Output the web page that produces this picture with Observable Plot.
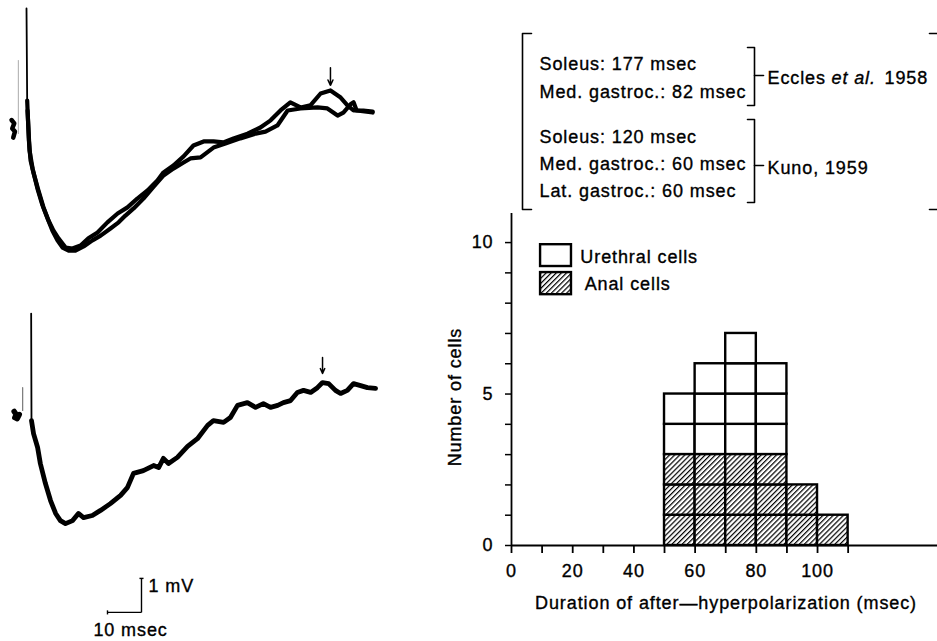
<!DOCTYPE html>
<html><head><meta charset="utf-8">
<script src="https://cdn.jsdelivr.net/npm/d3@7"></script>
<script src="https://cdn.jsdelivr.net/npm/@observablehq/plot@0.6"></script>
<style>
html,body{margin:0;padding:0;background:#fff;}
#fig{position:relative;width:937px;height:641px;overflow:hidden;background:#fff;}
#fig svg{position:absolute;}
#fig svg text{stroke:#000;stroke-width:0.35px;}
</style></head><body>
<svg width="0" height="0" style="position:absolute">
  <defs>
    <pattern id="hatch" patternUnits="userSpaceOnUse" width="3.6" height="3.6" patternTransform="rotate(45)">
      <rect width="3.6" height="3.6" fill="#fff"/>
      <line x1="0.6" y1="0" x2="0.6" y2="3.6" stroke="#000" stroke-width="1.25"/>
    </pattern>
  </defs>
</svg>
<div id="fig"></div>
<script>
// ---------------- DATA ----------------
// Histogram: duration of after-hyperpolarization (msec), counts per 10-msec bin
const binStarts = [50, 60, 70, 80, 90, 100];
const binWidth = 10;
const analCells = [3, 3, 3, 3, 2, 1];
const urethralCells = [2, 3, 4, 3, 0, 0];
const xTickValues = [0, 10, 20, 30, 40, 50, 60, 70, 80, 90, 100, 110];
const xTickLabels = [0, 20, 40, 60, 80, 100];
const yTickValues = [0, 1, 2, 3, 4, 5, 6, 7, 8, 9, 10];
const yTickLabels = [0, 5, 10];
const legendLabels = ["Urethral cells", "Anal cells"];
const xTitle = "Duration of after\u2014hyperpolarization (msec)";
const yTitle = "Number of cells";

// Literature values
const ecclesLines = ["Soleus: 177 msec", "Med. gastroc.: 82 msec"];
const kunoLines = ["Soleus: 120 msec", "Med. gastroc.: 60 msec", "Lat. gastroc.: 60 msec"];
const ecclesCite = ["Eccles", "et al.", "1958"];
const kunoCite = ["Kuno, 1959"];

// Intracellular traces: time (msec from spike) and potential (mV from rest)
const topSpikeT = [0, 0.2];
const topSpikeV = [3.50, 0.79];
const topTraceAT = [0.2, 0.7, 1.2, 2.1, 3.5, 5.0, 6.5, 7.9, 9.4, 11.5, 13.5, 15.9, 18.2, 20.9, 23.8, 26.8, 29.7, 32.6, 35.6, 38.5, 40.3, 43.2, 46.2, 49.1, 52.1, 55.0, 57.9, 60.9, 65.0, 68.8, 71.8, 74.7, 77.6, 80.6, 83.5, 86.5, 89.4, 92.4, 94.4, 96.2, 99.1, 101.8];
const topTraceAV = [0.79, -0.38, -0.97, -1.35, -1.85, -2.35, -2.74, -3.03, -3.26, -3.53, -3.56, -3.47, -3.26, -3.09, -2.79, -2.53, -2.35, -2.09, -1.85, -1.56, -1.32, -1.12, -0.85, -0.53, -0.41, -0.41, -0.44, -0.32, -0.18, 0.00, 0.21, 0.50, 0.74, 0.59, 0.65, 1.00, 1.09, 0.88, 0.65, 0.50, 0.50, 0.47];
const topTraceBT = [0.3, 0.9, 1.8, 3.2, 4.7, 6.2, 7.6, 9.1, 10.6, 12.4, 14.4, 16.8, 19.4, 21.8, 24.7, 27.1, 29.1, 31.5, 34.4, 37.4, 40.3, 43.2, 46.2, 48.2, 51.2, 55.0, 58.5, 62.9, 67.4, 70.3, 73.8, 76.8, 80.6, 85.6, 88.5, 91.5, 93.2, 95.3, 96.2, 97.1, 101.8];
const topTraceBV = [0.50, -0.68, -1.21, -1.79, -2.29, -2.68, -3.03, -3.32, -3.53, -3.62, -3.62, -3.50, -3.32, -3.18, -2.97, -2.79, -2.59, -2.38, -2.09, -1.74, -1.41, -1.21, -1.03, -0.91, -0.88, -0.59, -0.47, -0.32, -0.18, -0.12, 0.06, 0.50, 0.56, 0.59, 0.56, 0.35, 0.44, 0.68, 0.74, 0.50, 0.44];
const topPreT = [-4.4, -3.6, -4.2, -3.4, -3.9];
const topPreV = [0.22, 0.12, -0.03, -0.12, -0.30];
const topArtifactT = [-2.4, -2.4];
const topArtifactV = [1.97, -0.18];
const topArrowT = [89.4];

const botSpikeT = [-0.1, 0];
const botSpikeV = [2.94, -0.21];
const botTraceT = [0, 0.6, 1.8, 2.6, 4.1, 5.6, 7.1, 8.5, 10.0, 12.1, 13.8, 15.3, 17.9, 20.3, 23.2, 26.2, 28.2, 30.0, 32.9, 35.9, 37.4, 38.8, 40.3, 42.9, 45.9, 48.8, 51.8, 53.5, 56.5, 58.5, 60.6, 63.5, 65.9, 68.2, 70.3, 72.4, 74.1, 76.2, 78.2, 80.0, 82.1, 84.1, 85.6, 87.4, 89.4, 90.9, 92.9, 94.7, 96.8, 98.8, 101.2];
const botTraceV = [-0.21, -0.59, -1.00, -1.47, -2.06, -2.56, -2.94, -3.15, -3.24, -3.15, -2.94, -3.06, -3.00, -2.85, -2.65, -2.41, -2.18, -1.76, -1.68, -1.53, -1.59, -1.32, -1.47, -1.29, -0.97, -0.74, -0.35, -0.21, -0.26, -0.12, 0.24, 0.32, 0.18, 0.29, 0.18, 0.24, 0.32, 0.38, 0.62, 0.68, 0.62, 0.76, 0.91, 0.88, 0.68, 0.59, 0.68, 0.88, 0.82, 0.76, 0.74];
const botPreT = [-5.1, -4.5, -4.9, -4.2, -3.6];
const botPreV = [0.06, -0.03, -0.12, -0.15, -0.03];
const botArtifactT = [-2.6, -2.6];
const botArtifactV = [0.76, 0.09];
const botArrowT = [85.6];

const scaleBarMsec = 10;
const scaleBarMV = 1;
const scaleBarLabels = ["1 mV", "10 msec"];

// ---------------- LAYOUT / STYLE ----------------
const FONT = "'Liberation Sans', Arial, Helvetica, sans-serif";
const baseStyle = {background: "transparent", overflow: "visible", fontFamily: FONT, letterSpacing: "0.9px", color: "#000"};
const fig = document.getElementById("fig");
function place(svg, left, top) { svg.style.left = left + "px"; svg.style.top = top + "px"; fig.appendChild(svg); }
const traceStroke = {stroke: "#000", strokeLinejoin: "round", strokeLinecap: "round"};

// ---------------- TOP TRACES ----------------
const topPlot = Plot.plot({
  width: 390, height: 270, margin: 0,
  x: {domain: [-7.647, 107.06], axis: null},
  y: {domain: [-4.206, 3.735], axis: null},
  style: baseStyle,
  marks: [
    Plot.line(topArtifactT, {x: topArtifactT, y: topArtifactV, stroke: "#aaa", strokeWidth: 1}),
    Plot.line(topPreT, {x: topPreT, y: topPreV, ...traceStroke, strokeWidth: 4.5}),
    Plot.line(topSpikeT, {x: topSpikeT, y: topSpikeV, ...traceStroke, strokeWidth: 1.8}),
    Plot.line(topTraceAT, {x: topTraceAT, y: topTraceAV, ...traceStroke, strokeWidth: 4.2}),
    Plot.line(topTraceBT, {x: topTraceBT, y: topTraceBV, ...traceStroke, strokeWidth: 4.2}),
    Plot.arrow(topArrowT, {x1: d => d, x2: d => d, y1: 1.76, y2: 1.24, stroke: "#000", strokeWidth: 1.5, headLength: 6, headAngle: 50})
  ]
});
place(topPlot, 0, 0);

// ---------------- BOTTOM TRACE + SCALE BAR ----------------
const sbT0 = 22.35, sbV0 = -5.85;
const botPlot = Plot.plot({
  width: 390, height: 361, margin: 0,
  x: {domain: [-9.118, 105.59], axis: null},
  y: {domain: [-6.706, 3.912], axis: null},
  style: baseStyle,
  marks: [
    Plot.line(botArtifactT, {x: botArtifactT, y: botArtifactV, stroke: "#777", strokeWidth: 1.2}),
    Plot.line(botPreT, {x: botPreT, y: botPreV, ...traceStroke, strokeWidth: 5.5}),
    Plot.line(botSpikeT, {x: botSpikeT, y: botSpikeV, ...traceStroke, strokeWidth: 1.8}),
    Plot.line(botTraceT, {x: botTraceT, y: botTraceV, ...traceStroke, strokeWidth: 4.8}),
    Plot.arrow(botArrowT, {x1: d => d, x2: d => d, y1: 1.65, y2: 1.18, stroke: "#000", strokeWidth: 1.5, headLength: 6, headAngle: 50}),
    // scale bar
    Plot.link([0], {x1: sbT0, x2: sbT0 + scaleBarMsec, y1: sbV0, y2: sbV0, stroke: "#000", strokeWidth: 1.4}),
    Plot.link([0], {x1: sbT0 + scaleBarMsec, x2: sbT0 + scaleBarMsec, y1: sbV0, y2: sbV0 + scaleBarMV, stroke: "#000", strokeWidth: 1.4}),
    Plot.link([0], {x1: sbT0, x2: sbT0, y1: sbV0 - 0.06, y2: sbV0 + 0.06, stroke: "#000", strokeWidth: 1.4}),
    Plot.link([0], {x1: sbT0 + scaleBarMsec - 0.6, x2: sbT0 + scaleBarMsec + 0.6, y1: sbV0 + scaleBarMV, y2: sbV0 + scaleBarMV, stroke: "#000", strokeWidth: 1.4}),
    Plot.text([scaleBarLabels[0]], {x: sbT0 + scaleBarMsec + 2.05, y: sbV0 + 0.59, textAnchor: "start", lineAnchor: "bottom", fontSize: 18}),
    Plot.text([scaleBarLabels[1]], {x: sbT0 - 4.15, y: sbV0 - 0.68, textAnchor: "start", lineAnchor: "bottom", fontSize: 18})
  ]
});
place(botPlot, 0, 280);

// ---------------- HISTOGRAM ----------------
const cells = [];
binStarts.forEach((b, i) => {
  for (let k = 0; k < analCells[i]; k++) cells.push({x1: b, x2: b + binWidth, y1: k, y2: k + 1, kind: legendLabels[1]});
  for (let k = 0; k < urethralCells[i]; k++) cells.push({x1: b, x2: b + binWidth, y1: analCells[i] + k, y2: analCells[i] + k + 1, kind: legendLabels[0]});
});
const legendBoxes = [
  {x1: 9.5, x2: 19.6, y1: 9.21, y2: 9.93, label: legendLabels[0], tx: 22.5, ty: 9.34},
  {x1: 9.5, x2: 19.6, y1: 8.28, y2: 9.01, label: legendLabels[1], tx: 23.9, ty: 8.45}
];
const hist = Plot.plot({
  width: 497, height: 441,
  marginLeft: 71, marginRight: 0, marginTop: 13, marginBottom: 96,
  x: {domain: [0, 139.2], axis: null},
  y: {domain: [0, 10.96], axis: null},
  style: baseStyle,
  marks: [
    Plot.rect(cells.filter(d => d.kind === legendLabels[0]), {x1: "x1", x2: "x2", y1: "y1", y2: "y2", fill: "white", stroke: "#000", strokeWidth: 2.4}),
    Plot.rect(cells.filter(d => d.kind === legendLabels[1]), {x1: "x1", x2: "x2", y1: "y1", y2: "y2", fill: "url(#hatch)", stroke: "#000", strokeWidth: 2.4}),
    Plot.rect([legendBoxes[0]], {x1: "x1", x2: "x2", y1: "y1", y2: "y2", fill: "white", stroke: "#000", strokeWidth: 2.4}),
    Plot.rect([legendBoxes[1]], {x1: "x1", x2: "x2", y1: "y1", y2: "y2", fill: "url(#hatch)", stroke: "#000", strokeWidth: 2.4}),
    Plot.text(legendBoxes, {x: "tx", y: "ty", text: "label", textAnchor: "start", lineAnchor: "bottom", fontSize: 18}),
    Plot.ruleY([0], {stroke: "#000", strokeWidth: 2}),
    Plot.ruleX([0], {stroke: "#000", strokeWidth: 1.8}),
    Plot.axisX({ticks: xTickValues, tickSize: 8, tickPadding: 11, strokeWidth: 1.8, fontSize: 18, label: null,
      tickFormat: d => xTickLabels.includes(d) ? String(d) : ""}),
    Plot.axisY({ticks: yTickValues, tickSize: 6, tickPadding: 12, strokeWidth: 1.5, fontSize: 18, label: null,
      tickFormat: d => yTickLabels.includes(d) ? String(d) : ""}),
    Plot.text([xTitle], {x: 70.1, frameAnchor: "bottom", dy: 63, lineAnchor: "bottom", textAnchor: "middle", fontSize: 18}),
    Plot.text([yTitle], {y: 4.9, frameAnchor: "left", dx: -56, rotate: -90, textAnchor: "middle", fontSize: 18})
  ]
});
place(hist, 440, 200);

// ---------------- LITERATURE BRACKETS ----------------
const bracketPaths = [
  {g: "big", pts: [[531, 33], [522, 33], [522, 209], [531, 209]]},
  {g: "e", pts: [[747, 47], [754, 47], [754, 105], [747, 105]]},
  {g: "et", pts: [[754, 75], [763, 75]]},
  {g: "k", pts: [[747, 119], [754, 119], [754, 202], [747, 202]]},
  {g: "kt", pts: [[754, 165], [763, 165]]},
  {g: "r1", pts: [[929, 33], [945, 33]]},
  {g: "r2", pts: [[929, 209], [945, 209]]}
];
const bracketPts = bracketPaths.flatMap(p => p.pts.map(([x, y]) => ({x, y, g: p.g})));
const ecclesY = [69, 97], kunoY = [142, 169, 196];
const ann = Plot.plot({
  width: 937, height: 215, margin: 0,
  x: {domain: [0, 937], range: [0, 937], axis: null},
  y: {domain: [0, 215], range: [0, 215], axis: null},
  style: baseStyle,
  marks: [
    Plot.line(bracketPts, {x: "x", y: "y", z: "g", stroke: "#000", strokeWidth: 1.6}),
    Plot.text(ecclesLines, {x: 539, y: (d, i) => ecclesY[i], textAnchor: "start", lineAnchor: "bottom", fontSize: 18}),
    Plot.text(kunoLines, {x: 539, y: (d, i) => kunoY[i], textAnchor: "start", lineAnchor: "bottom", fontSize: 18}),
    Plot.text([ecclesCite[0]], {x: 767, y: 83, textAnchor: "start", lineAnchor: "bottom", fontSize: 18}),
    Plot.text([ecclesCite[1]], {x: 831, y: 83, textAnchor: "start", lineAnchor: "bottom", fontSize: 18, fontStyle: "italic"}),
    Plot.text([ecclesCite[2]], {x: 884, y: 83, textAnchor: "start", lineAnchor: "bottom", fontSize: 18}),
    Plot.text(kunoCite, {x: 767, y: 173, textAnchor: "start", lineAnchor: "bottom", fontSize: 18})
  ]
});
place(ann, 0, 0);
</script>
</body></html>
